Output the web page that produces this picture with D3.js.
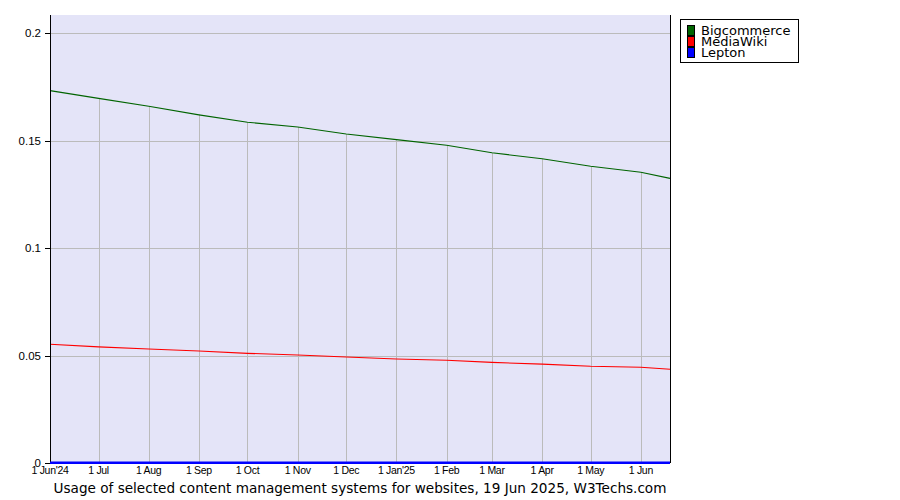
<!DOCTYPE html>
<html><head><meta charset="utf-8">
<script src="https://cdn.jsdelivr.net/npm/d3@7"></script>
<style>body{margin:0;background:#fff}svg{display:block}</style>
</head><body><svg id="c" width="900" height="500"></svg>
<script>
const dates = ["2024-06-01","2024-07-01","2024-08-01","2024-09-01","2024-10-01","2024-11-01","2024-12-01","2025-01-01","2025-02-01","2025-03-01","2025-04-01","2025-05-01","2025-06-01","2025-06-19"];
const bigcommerce = [0.1732,0.1696,0.1659,0.1619,0.1585,0.1563,0.1530,0.1504,0.1478,0.1443,0.1415,0.1380,0.1352,0.1324];
const mediawiki = [0.0552,0.0540,0.0530,0.0521,0.0510,0.0502,0.0493,0.0484,0.0478,0.0468,0.0460,0.0450,0.0445,0.0436];
const lepton = [0,0,0,0,0,0,0,0,0,0,0,0,0,0];
const seriesNames = ["Bigcommerce","MediaWiki","Lepton"];
const seriesColors = ["#006400","#ff0000","#0000ff"];
const xTickLabels = ["1 Jun'24","1 Jul","1 Aug","1 Sep","1 Oct","1 Nov","1 Dec","1 Jan'25","1 Feb","1 Mar","1 Apr","1 May","1 Jun"];
const yTicks = [0,0.05,0.1,0.15,0.2];
const yTickLabels = ["0","0.05","0.1","0.15","0.2"];
const title = "Usage of selected content management systems for websites, 19 Jun 2025, W3Techs.com";

const parse = d3.utcParse("%Y-%m-%d");
const D = dates.map(parse);
const L = 50, R = 670, T = 15, B = 463;
const x = d3.scaleUtc().domain([D[0], D[D.length-1]]).range([L, R]);
const y = d3.scaleLinear().domain([0, 0.2]).range([B, 33]);
const svg = d3.select("#c");

svg.append("rect").attr("x",L).attr("y",T).attr("width",R-L).attr("height",B-T).attr("fill","#e4e4f8");

// horizontal grid
svg.selectAll(".hg").data(yTicks.slice(1)).join("line")
  .attr("x1",L).attr("x2",R).attr("y1",d=>Math.round(y(d))+0.5).attr("y2",d=>Math.round(y(d))+0.5)
  .attr("stroke","#bbbbbb").attr("stroke-width",1);
// vertical grid: from top series value down to baseline, at monthly ticks
const tickIdx = d3.range(1, xTickLabels.length);
svg.selectAll(".vg").data(tickIdx).join("line")
  .attr("x1",i=>Math.round(x(D[i]))+0.5).attr("x2",i=>Math.round(x(D[i]))+0.5)
  .attr("y1",i=>y(bigcommerce[i])).attr("y2",B)
  .attr("stroke","#bbbbbb").attr("stroke-width",1);

const line = d3.line().x((d,i)=>x(D[i])).y(d=>y(d));
const allSeries = [bigcommerce, mediawiki, lepton];
allSeries.forEach((s,k)=>{
  svg.append("path").attr("d",line(s)).attr("fill","none")
    .attr("stroke",seriesColors[k]).attr("stroke-width", k===2?2:1.1);
});

// axes lines
svg.append("line").attr("x1",L+0.5).attr("x2",L+0.5).attr("y1",T).attr("y2",B).attr("stroke","#000");
svg.append("line").attr("x1",R+0.5).attr("x2",R+0.5).attr("y1",T).attr("y2",B).attr("stroke","#000");
svg.append("line").attr("x1",L).attr("x2",R).attr("y1",B-0.5).attr("y2",B-0.5).attr("stroke","#0000ff").attr("stroke-width",2);

// y ticks
svg.selectAll(".yt").data(yTicks).join("line")
  .attr("x1",L-5).attr("x2",L).attr("y1",d=>Math.round(y(d))+0.5).attr("y2",d=>Math.round(y(d))+0.5).attr("stroke","#000");
svg.selectAll(".yl").data(yTicks).join("text")
  .attr("x",L-9).attr("y",d=>y(d)+4).attr("text-anchor","end")
  .attr("font-family","Liberation Sans, Arial, sans-serif").attr("font-size",11.5)
  .text((d,i)=>yTickLabels[i]);

// x tick labels
svg.selectAll(".xl").data(xTickLabels).join("text")
  .attr("x",(d,i)=>x(D[i])).attr("y",474).attr("text-anchor","middle")
  .attr("font-family","Liberation Sans, Arial, sans-serif").attr("font-size",10.5).attr("letter-spacing",-0.3)
  .text(d=>d);

// title
svg.append("text").attr("x",(L+R)/2).attr("y",493).attr("text-anchor","middle")
  .attr("font-family","DejaVu Sans, sans-serif").attr("font-size",13.6).text(title);

// legend
const lg = svg.append("g");
lg.append("rect").attr("x",680.5).attr("y",19.5).attr("width",118).attr("height",43).attr("fill","#fff").attr("stroke","#000");
seriesNames.forEach((n,k)=>{
  lg.append("rect").attr("x",687.5).attr("y",25.5+k*11).attr("width",7).attr("height",10)
    .attr("fill",seriesColors[k]).attr("stroke","#000");
  lg.append("text").attr("x",701).attr("y",35+k*11)
    .attr("font-family","DejaVu Sans, sans-serif").attr("font-size",13).text(n);
});
</script></body></html>
